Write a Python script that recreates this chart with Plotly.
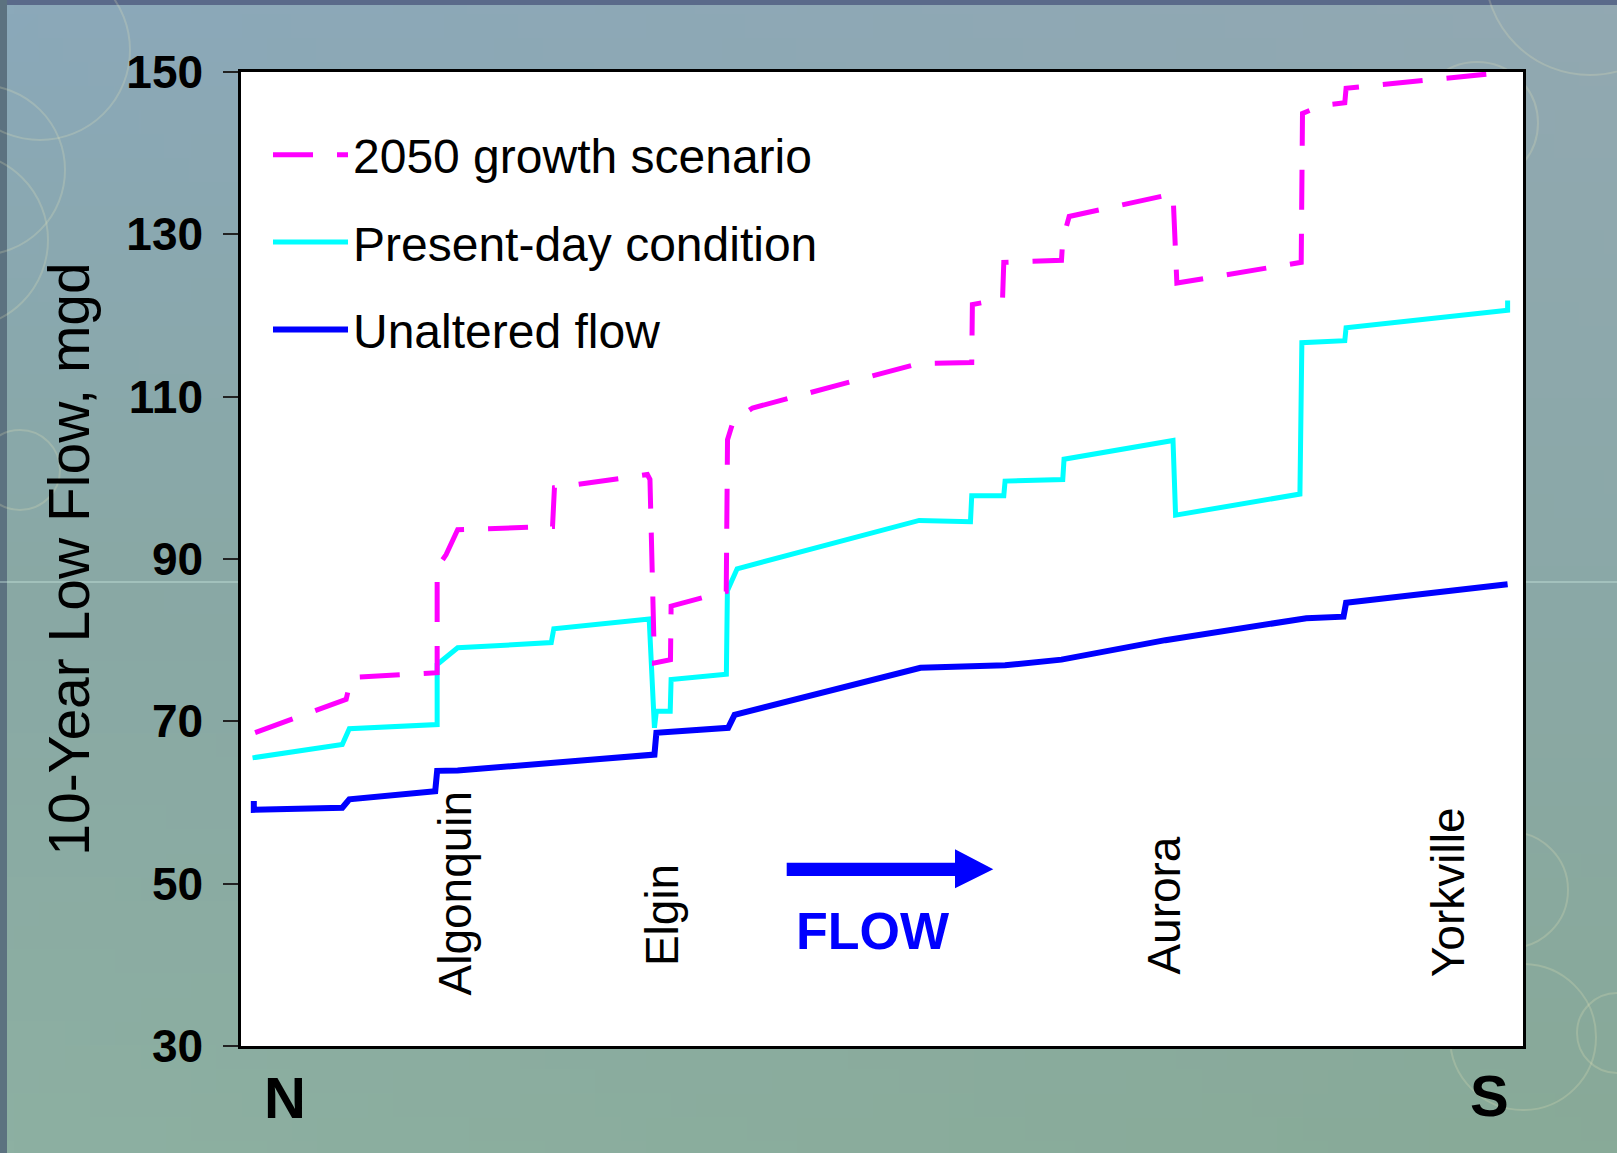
import base64, struct, zlib
import numpy as np
import plotly.graph_objects as go

# ---------------- data (x = position along the river reach, % from N to S) ----------------
unaltered_x = [1.0, 1.0, 7.9, 8.45, 15.15, 15.3, 16.9, 32.25, 32.4, 38.0, 38.5, 53.0, 59.6, 64.0, 72.1, 83.1, 86.0, 86.2, 98.8]
unaltered_y = [60.2, 59.1, 59.35, 60.4, 61.4, 63.9, 63.95, 65.9, 68.6, 69.2, 70.8, 76.6, 76.9, 77.6, 80.0, 82.7, 82.9, 84.6, 86.9]

present_x = [0.9, 7.9, 8.45, 15.3, 15.3, 16.9, 24.2, 24.4, 31.84, 32.0, 32.25, 32.4, 33.48, 33.55, 37.86, 37.94, 38.7,
             52.9, 56.9, 57.0, 59.5, 59.6, 64.1, 64.2, 72.7, 72.9, 82.6, 82.75, 86.1, 86.2, 98.8, 98.8]
present_y = [65.5, 67.15, 69.1, 69.6, 77.0, 79.06, 79.7, 81.4, 82.6, 76.0, 69.2, 71.25, 71.25, 75.15, 75.8, 86.1, 88.8,
             94.75, 94.6, 97.8, 97.8, 99.6, 99.8, 102.3, 104.6, 95.4, 98.0, 116.65, 116.9, 118.5, 120.65, 121.85]

growth_x = [1.1, 8.2, 8.6, 15.3, 15.3, 16.0, 16.9, 24.3, 24.45, 31.7, 31.9, 32.25, 33.5, 33.55, 37.85, 37.95, 38.4, 39.9,
            52.9, 57.0, 57.05, 58.2, 59.4, 59.5, 64.0, 64.1, 64.6, 72.7, 73.0, 82.7, 82.8, 84.35, 86.1, 86.2, 98.8]
growth_y = [68.6, 72.7, 75.4, 76.0, 88.9, 90.55, 93.6, 94.0, 98.8, 100.4, 99.8, 77.2, 77.6, 84.2, 86.0, 104.7, 107.0, 108.6,
            114.1, 114.2, 121.35, 121.7, 121.9, 126.55, 126.8, 129.35, 132.2, 135.0, 124.0, 126.55, 144.9, 145.9, 146.2, 148.0, 150.0]

series_names = ["2050 growth scenario", "Present-day condition", "Unaltered flow"]

towns = ["Algonquin", "Elgin", "Aurora", "Yorkville"]
town_x = [16.7, 32.9, 72.0, 94.1]
town_label_y = [48.8, 46.1, 47.3, 49.0]

y_ticks = [30, 50, 70, 90, 110, 130, 150]

# ---------------- geometry of the page ----------------
W, H = 1617, 1153
L, R, T, B = 241, 1523, 72, 1046
pw, ph = R - L, B - T


def px_to_paper(X, Y):
    return (X - L) / pw, 1 - (Y - T) / ph


# ---------------- gradient background as a tiny PNG ----------------
def make_png(arr):
    h, w, _ = arr.shape
    raw = b"".join(b"\x00" + arr[i].astype(np.uint8).tobytes() for i in range(h))

    def chunk(tag, data):
        c = struct.pack(">I", len(data)) + tag + data
        return c + struct.pack(">I", zlib.crc32(tag + data) & 0xFFFFFFFF)

    png = b"\x89PNG\r\n\x1a\n"
    png += chunk(b"IHDR", struct.pack(">IIBBBBB", w, h, 8, 2, 0, 0, 0))
    png += chunk(b"IDAT", zlib.compress(raw, 9))
    png += chunk(b"IEND", b"")
    return "data:image/png;base64," + base64.b64encode(png).decode()


gw, gh = 64, 48
top_l, top_r = np.array([139, 169, 186]), np.array([146, 168, 178])
mid_l, mid_r = np.array([137, 168, 165]), np.array([139, 168, 168])
bot_l, bot_r = np.array([141, 176, 162]), np.array([136, 170, 152])
img = np.zeros((gh, gw, 3))
for j in range(gh):
    t = j / (gh - 1)
    if t < 0.5:
        a = t / 0.5
        left = top_l * (1 - a) + mid_l * a
        right = top_r * (1 - a) + mid_r * a
    else:
        a = (t - 0.5) / 0.5
        left = mid_l * (1 - a) + bot_l * a
        right = mid_r * (1 - a) + bot_r * a
    for i in range(gw):
        s = i / (gw - 1)
        img[j, i] = left * (1 - s) + right * s
bg_src = make_png(np.clip(img, 0, 255))

# ---------------- figure ----------------
fig = go.Figure()
fig.add_trace(go.Scatter(x=unaltered_x, y=unaltered_y, mode="lines", name=series_names[2],
                         line=dict(color="#0000FF", width=6), legendrank=3, legendgroup="c"))
fig.add_trace(go.Scatter(x=present_x, y=present_y, mode="lines", name=series_names[1],
                         line=dict(color="#00FFFF", width=5), legendrank=2, legendgroup="b"))
fig.add_trace(go.Scatter(x=growth_x, y=growth_y, mode="lines", name=series_names[0],
                         line=dict(color="#FF00FF", width=5, dash="40px,24px"), legendrank=1, legendgroup="a"))

shapes = []
# dark slide edges
x0p, y0p = px_to_paper(0, 0)
x1p, y1p = px_to_paper(W, H)
shapes.append(dict(type="rect", xref="paper", yref="paper", x0=x0p, x1=x1p, y0=px_to_paper(0, 5)[1], y1=y0p,
                   fillcolor="#5a6a8a", line=dict(width=0), layer="below"))
shapes.append(dict(type="rect", xref="paper", yref="paper", x0=x0p, x1=px_to_paper(7, 0)[0], y0=y1p, y1=y0p,
                   fillcolor="#5c7280", line=dict(width=0), layer="below"))
# faint decorative rings of the slide
rings = [(40, 50, 90), (-20, 170, 85), (-40, 240, 88), (1590, -30, 105), (1477, 123, 61),
         (1510, 890, 58), (1523, 1037, 73), (1617, 1033, 40), (20, 470, 40)]
for cx, cy, r in rings:
    a0, b0 = px_to_paper(cx - r, cy + r)
    a1, b1 = px_to_paper(cx + r, cy - r)
    shapes.append(dict(type="circle", xref="paper", yref="paper", x0=a0, x1=a1, y0=b0, y1=b1,
                       line=dict(color="rgba(235,232,185,0.22)", width=2), layer="below"))
# faint horizontal slide rule
yl = px_to_paper(0, 582)[1]
shapes.append(dict(type="line", xref="paper", yref="paper", x0=x0p, x1=0, y0=yl, y1=yl,
                   line=dict(color="rgba(200,230,222,0.8)", width=1), layer="below"))
shapes.append(dict(type="line", xref="paper", yref="paper", x0=1, x1=x1p, y0=yl, y1=yl,
                   line=dict(color="rgba(200,230,222,0.8)", width=1), layer="below"))
# white plot area
shapes.append(dict(type="rect", xref="paper", yref="paper", x0=0, x1=1, y0=0, y1=1,
                   fillcolor="white", line=dict(width=0), layer="below"))
# FLOW arrow
ax0 = px_to_paper(786.7, 0)[0]
ax1 = px_to_paper(955, 0)[0]
ax2 = px_to_paper(993.3, 0)[0]
sy0 = px_to_paper(0, 862.7)[1]
sy1 = px_to_paper(0, 876)[1]
hy0 = px_to_paper(0, 849.3)[1]
hy1 = px_to_paper(0, 888.3)[1]
tip = px_to_paper(0, 869.3)[1]
path = (f"M {ax0},{sy0} L {ax1},{sy0} L {ax1},{hy0} L {ax2},{tip} L {ax1},{hy1} "
        f"L {ax1},{sy1} L {ax0},{sy1} Z")
shapes.append(dict(type="path", xref="paper", yref="paper", path=path, fillcolor="#0000FF",
                   line=dict(width=0), layer="above"))

annotations = []
for name, tx, ty in zip(towns, town_x, town_label_y):
    annotations.append(dict(x=tx, y=ty, xref="x", yref="y", text=name, textangle=-90, showarrow=False,
                            xanchor="center", yanchor="middle",
                            font=dict(family="Arial, Liberation Sans", size=46, color="black")))
fx, fy = px_to_paper(872.5, 931)
annotations.append(dict(x=fx, y=fy, xref="paper", yref="paper", text="FLOW", showarrow=False,
                        xanchor="center", yanchor="middle",
                        font=dict(family="Arial, Liberation Sans", size=52, color="#0000FF", weight="bold")))
nx, ny = px_to_paper(285, 1097)
sx, sy = px_to_paper(1489, 1095)
annotations.append(dict(x=nx, y=ny, xref="paper", yref="paper", text="N", showarrow=False,
                        xanchor="center", yanchor="middle",
                        font=dict(family="Arial, Liberation Sans", size=58, color="black", weight="bold")))
annotations.append(dict(x=sx, y=sy, xref="paper", yref="paper", text="S", showarrow=False,
                        xanchor="center", yanchor="middle",
                        font=dict(family="Arial, Liberation Sans", size=58, color="black", weight="bold")))

lx, ly = px_to_paper(268, 117)
fig.update_layout(
    width=W, height=H, autosize=False,
    margin=dict(l=L, r=W - R, t=T, b=H - B, pad=0),
    paper_bgcolor="#8ba9ac", plot_bgcolor="rgba(0,0,0,0)",
    images=[dict(source=bg_src, xref="paper", yref="paper", x=x0p, y=y0p, sizex=x1p - x0p, sizey=y0p - y1p,
                 xanchor="left", yanchor="top", sizing="stretch", layer="below")],
    shapes=shapes,
    annotations=annotations,
    showlegend=True,
    legend=dict(x=lx, y=ly, xanchor="left", yanchor="top", bgcolor="rgba(0,0,0,0)", borderwidth=0,
                font=dict(family="Arial, Liberation Sans", size=48, color="black"),
                itemwidth=75, tracegroupgap=22, traceorder="grouped"),
    xaxis=dict(range=[0, 100], showticklabels=False, ticks="", showgrid=False, zeroline=False,
               showline=True, mirror=True, linecolor="black", linewidth=2.5, fixedrange=True),
    yaxis=dict(range=[30, 150], tickvals=y_ticks, ticks="outside", ticklen=15, tickwidth=1.5,
               tickcolor="#222222", showgrid=False, zeroline=False, showline=True, mirror=True,
               linecolor="black", linewidth=2.5, ticklabelstandoff=11,
               tickfont=dict(family="Arial, Liberation Sans", size=46, color="black", weight="bold"),
               title=dict(text="10-Year Low Flow, mgd", standoff=19,
                          font=dict(family="Arial, Liberation Sans", size=57, color="black")),
               fixedrange=True),
)

fig.write_html("out.html", include_plotlyjs=True, config={"displayModeBar": False},
               post_script="document.body.style.margin='0';document.body.style.overflow='hidden';")
